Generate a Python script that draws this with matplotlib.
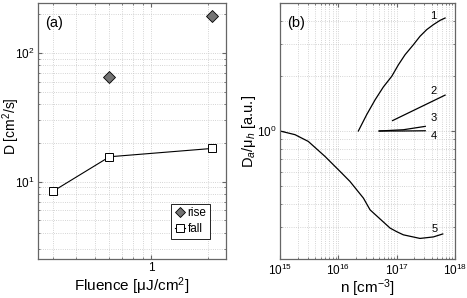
import numpy as np
import matplotlib
matplotlib.use("Agg")
import matplotlib.pyplot as plt
from matplotlib.ticker import NullFormatter

plt.rcParams['font.family'] = ['Liberation Sans', 'DejaVu Sans']
plt.rcParams['mathtext.fontset'] = 'custom'
plt.rcParams['mathtext.rm'] = 'Liberation Sans'
plt.rcParams['mathtext.it'] = 'Liberation Sans:italic'

# Panel (a): diffusion coefficient vs fluence
fluence_rise = [0.60, 2.1]
d_rise = [65.0, 195.0]
fluence_fall = [0.30, 0.60, 2.1]
d_fall = [8.4, 15.6, 18.1]

# Panel (b): Da/mu_h vs carrier density (log10 n, value)
c1_logn = [16.343, 16.487, 16.63, 16.772, 16.916, 17.03, 17.144, 17.287,
           17.40, 17.516, 17.63, 17.744, 17.83]
c1_val = [1.0, 1.23, 1.48, 1.74, 1.99, 2.30, 2.61, 2.96,
          3.29, 3.58, 3.81, 4.02, 4.14]
c2_logn = [16.93, 17.83]
c2_val = [1.14, 1.57]
c3_logn = [16.70, 17.115, 17.49]
c3_val = [1.0, 1.016, 1.06]
c4_logn = [16.70, 17.115, 17.49]
c4_val = [1.0, 1.0, 1.003]
c5_logn = [15.0, 15.257, 15.485, 15.772, 16.058, 16.20, 16.43, 16.544,
           16.887, 17.0, 17.115, 17.40, 17.63, 17.79]
c5_val = [1.0, 0.955, 0.877, 0.726, 0.589, 0.53, 0.43, 0.371,
          0.295, 0.282, 0.271, 0.259, 0.264, 0.274]
curve_labels = ['1', '2', '3', '4', '5']
label_logn = [17.63, 17.64, 17.64, 17.64, 17.65]
label_val = [4.27, 1.66, 1.18, 0.934, 0.29]

fig = plt.figure(figsize=(4.67, 2.98), dpi=100)
ax1 = fig.add_axes([0.0814, 0.1309, 0.4026, 0.859])
ax2 = fig.add_axes([0.5996, 0.1309, 0.3747, 0.859])

spine_col = '0.4'
grid_kw = dict(color='0.78', linestyle=':', linewidth=0.6)


def style(ax):
    ax.set_xscale('log')
    ax.set_yscale('log')
    ax.grid(True, which='both', **grid_kw)
    ax.set_axisbelow(True)
    for s in ax.spines.values():
        s.set_color(spine_col)
        s.set_linewidth(0.9)
    ax.tick_params(which='both', direction='in', top=True, right=True,
                   color=spine_col, labelsize=8.5, pad=2.5)
    ax.tick_params(which='major', length=3)
    ax.tick_params(which='minor', length=1.5)
    ax.xaxis.set_minor_formatter(NullFormatter())
    ax.yaxis.set_minor_formatter(NullFormatter())


# panel (a)
style(ax1)
ax1.plot(fluence_rise, d_rise, linestyle='none', marker='D', markersize=6,
         markerfacecolor='0.45', markeredgecolor='black', markeredgewidth=0.6,
         label='rise')
ax1.plot(fluence_fall, d_fall, color='black', linewidth=0.8, marker='s',
         markersize=6, markerfacecolor='white', markeredgecolor='black',
         markeredgewidth=0.7, label='fall')
ax1.set_xlim(0.25, 2.5)
ax1.set_ylim(2.5, 245)
ax1.set_xticks([1])
ax1.set_xticklabels(['1'])
ax1.set_xlabel('Fluence [μJ/cm$^2$]', fontsize=11, labelpad=1)
ax1.set_ylabel('D [cm$^2$/s]', fontsize=10)
ax1.yaxis.set_label_coords(-0.085, 0.52)
ax1.text(0.04, 0.95, '(a)', transform=ax1.transAxes, fontsize=10.5,
         va='top', ha='left')
leg = ax1.legend(loc='lower right', bbox_to_anchor=(0.915, 0.08),
                 fontsize=8.5, handlelength=0.9, handletextpad=0.2,
                 borderpad=0.3, labelspacing=0.3, borderaxespad=0,
                 fancybox=False, framealpha=1, markerscale=0.85)
leg.get_frame().set_edgecolor('black')
leg.get_frame().set_linewidth(0.6)

# panel (b)
style(ax2)
curves = [(c1_logn, c1_val), (c2_logn, c2_val), (c3_logn, c3_val),
          (c4_logn, c4_val), (c5_logn, c5_val)]
for logn, val in curves:
    ax2.plot(10.0 ** np.array(logn), val, color='black', linewidth=0.9)
for lab, ln, v in zip(curve_labels, label_logn, label_val):
    ax2.text(10.0 ** ln, v, lab, fontsize=8, ha='center', va='center')
ax2.set_xlim(1e15, 1e18)
ax2.set_ylim(0.2, 5)
ax2.set_xticks([1e15, 1e16, 1e17, 1e18])
ax2.set_xlabel('n [cm$^{-3}$]', fontsize=11, labelpad=0)
ax2.set_ylabel('D$_a$/μ$_h$ [a.u.]', fontsize=10.5)
ax2.yaxis.set_label_coords(-0.125, 0.5)
ax2.text(0.04, 0.95, '(b)', transform=ax2.transAxes, fontsize=10.5,
         va='top', ha='left')

fig.savefig('out.png', dpi=100)
